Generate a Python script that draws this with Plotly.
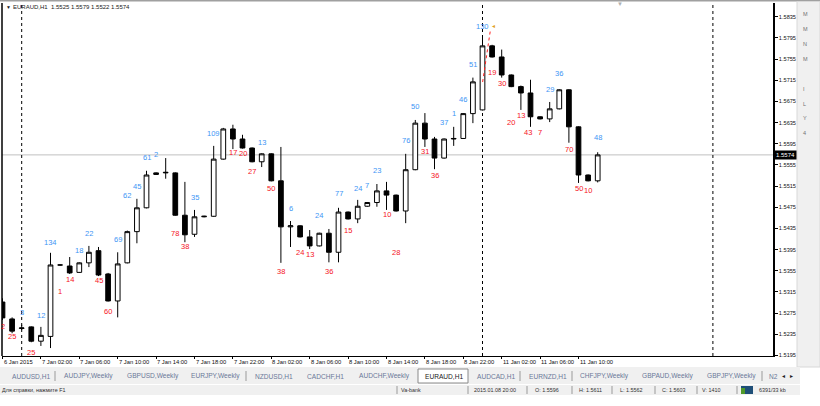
import plotly.graph_objects as go

# ---------------- data (EURAUD, H1) ----------------
bar_open = [1.5296, 1.5264, 1.5246, 1.5249, 1.5222, 1.5231, 1.5366, 1.5364, 1.5352, 1.5370,
            1.5393, 1.5349, 1.5298, 1.5370, 1.5429, 1.5474, 1.5537, 1.5540, 1.5540, 1.5460,
            1.5424, 1.5457, 1.5458, 1.5566, 1.5623, 1.5604, 1.5587, 1.5561, 1.5576, 1.5525,
            1.5438, 1.5440, 1.5419, 1.5402, 1.5426, 1.5390, 1.5466, 1.5453, 1.5477, 1.5484,
            1.5506, 1.5498, 1.5468, 1.5546, 1.5634, 1.5604, 1.5568, 1.5604, 1.5605, 1.5652,
            1.5659, 1.5780, 1.5759, 1.5725, 1.5703, 1.5691, 1.5646, 1.5642, 1.5661, 1.5697,
            1.5627, 1.5536, 1.5525]
bar_high = [1.5303, 1.5267, 1.5253, 1.5250, 1.5249, 1.5389, 1.5367, 1.5381, 1.5371, 1.5402,
            1.5400, 1.5351, 1.5390, 1.5431, 1.5491, 1.5544, 1.5541, 1.5568, 1.5541, 1.5523,
            1.5470, 1.5459, 1.5591, 1.5625, 1.5631, 1.5612, 1.5588, 1.5577, 1.5577, 1.5589,
            1.5449, 1.5441, 1.5432, 1.5427, 1.5434, 1.5474, 1.5467, 1.5489, 1.5485, 1.5519,
            1.5523, 1.5499, 1.5576, 1.5640, 1.5653, 1.5608, 1.5605, 1.5627, 1.5653, 1.5720,
            1.5795, 1.5782, 1.5773, 1.5726, 1.5705, 1.5716, 1.5647, 1.5674, 1.5698, 1.5698,
            1.5628, 1.5537, 1.5579]
bar_low = [1.5262, 1.5237, 1.5243, 1.5220, 1.5213, 1.5209, 1.5365, 1.5349, 1.5351, 1.5362,
           1.5345, 1.5297, 1.5267, 1.5369, 1.5407, 1.5473, 1.5536, 1.5529, 1.5459, 1.5409,
           1.5419, 1.5456, 1.5457, 1.5565, 1.5585, 1.5586, 1.5560, 1.5551, 1.5524, 1.5370,
           1.5400, 1.5418, 1.5396, 1.5401, 1.5371, 1.5371, 1.5452, 1.5445, 1.5476, 1.5476,
           1.5470, 1.5467, 1.5445, 1.5545, 1.5589, 1.5547, 1.5567, 1.5591, 1.5604, 1.5634,
           1.5658, 1.5758, 1.5720, 1.5702, 1.5659, 1.5627, 1.5641, 1.5636, 1.5660, 1.5597,
           1.5521, 1.5524, 1.5522]
bar_close = [1.5266, 1.5241, 1.5247, 1.5222, 1.5233, 1.5366, 1.5366, 1.5351, 1.5370, 1.5390,
             1.5347, 1.5298, 1.5368, 1.5429, 1.5474, 1.5536, 1.5540, 1.5541, 1.5460, 1.5423,
             1.5457, 1.5458, 1.5566, 1.5623, 1.5604, 1.5587, 1.5561, 1.5576, 1.5525, 1.5438,
             1.5440, 1.5419, 1.5402, 1.5426, 1.5390, 1.5466, 1.5453, 1.5477, 1.5484, 1.5506,
             1.5498, 1.5468, 1.5546, 1.5634, 1.5604, 1.5568, 1.5604, 1.5605, 1.5652, 1.5712,
             1.5780, 1.5759, 1.5725, 1.5703, 1.5691, 1.5646, 1.5642, 1.5661, 1.5697, 1.5627,
             1.5536, 1.5525, 1.5574]

time_label_bars = [0, 4, 8, 12, 16, 20, 24, 28, 32, 36, 40, 44, 48, 52, 56, 60]
time_labels = ["6 Jan 2015", "7 Jan 02:00", "7 Jan 06:00", "7 Jan 10:00", "7 Jan 14:00",
               "7 Jan 18:00", "7 Jan 22:00", "8 Jan 02:00", "8 Jan 06:00", "8 Jan 10:00",
               "8 Jan 14:00", "8 Jan 18:00", "8 Jan 22:00", "11 Jan 02:00", "11 Jan 06:00",
               "11 Jan 10:00"]

price_ticks = [1.5195, 1.5235, 1.5275, 1.5315, 1.5355, 1.5395, 1.5435, 1.5475, 1.5515,
               1.5555, 1.5595, 1.5635, 1.5675, 1.5715, 1.5755, 1.5795, 1.5835]
bid_price = 1.5574

# indicator tags above highs (blue) and below lows (red)
up_text = ["3", "12", "134", "18", "22", "69", "62", "45", "61", "2", "35", "109", "13", "6",
           "24", "77", "24", "7", "23", "76", "50", "37", "1", "46", "51", "130", "29", "36", "48"]
up_bar = [2, 4, 5, 8, 9, 12, 13, 14, 15, 16, 20, 22, 27, 30,
          33, 35, 37, 38, 39, 42, 43, 46, 47, 48, 49, 50, 57, 58, 62]
up_price = [1.5277, 1.5271, 1.5409, 1.5394, 1.5426, 1.5415, 1.5498, 1.5515, 1.5570, 1.5574,
            1.5494, 1.5614, 1.5597, 1.5472, 1.5460, 1.5502, 1.5511, 1.5517, 1.5544, 1.5602,
            1.5665, 1.5636, 1.5652, 1.5678, 1.5744, 1.5816, 1.5697, 1.5727, 1.5606]

dn_text = ["2", "25", "25", "1", "14", "45", "60", "78", "38", "17", "20", "27", "50", "38",
           "24", "13", "36", "15", "10", "28", "31", "36", "19", "30", "20", "13", "43", "7",
           "70", "50", "10"]
dn_bar = [0, 1, 3, 6, 7, 10, 11, 18, 19, 24, 25, 26, 28, 29,
          31, 32, 34, 36, 40, 41, 44, 45, 51, 52, 53, 54, 54.75, 56,
          59, 60, 61]
dn_price = [1.5250, 1.5230, 1.5201, 1.5315, 1.5339, 1.5337, 1.5279, 1.5426, 1.5400, 1.5578,
            1.5576, 1.5542, 1.5511, 1.5353, 1.5389, 1.5385, 1.5353, 1.5432, 1.5462, 1.5389,
            1.5580, 1.5536, 1.5729, 1.5708, 1.5636, 1.5648, 1.5616, 1.5616, 1.5585, 1.5511,
            1.5506]

trend_bar = [50.8, 50.0]
trend_price = [1.5807, 1.5710]
separator_bars = [2, 50, 74]

header_text = "EURAUD,H1  1.5525 1.5579 1.5522 1.5574"
tabs = ["AUDUSD,H1", "AUDJPY,Weekly", "GBPUSD,Weekly", "EURJPY,Weekly", "NZDUSD,H1",
        "CADCHF,H1", "AUDCHF,Weekly", "EURAUD,H1", "AUDCAD,H1", "EURNZD,H1",
        "CHFJPY,Weekly", "GBPAUD,Weekly", "GBPJPY,Weekly", "N2"]
status_items = ["Для справки, нажмите F1", "Va-bank", "2015.01.08 20:00", "O: 1.5596",
                "H: 1.5611", "L: 1.5562", "C: 1.5603", "V: 1410", "6391/33 kb"]

# ---------------- layout geometry ----------------
W, H = 820, 406
ML, MR, MT, MB = 2, 47, 3, 50
PW, PH = W - ML - MR, H - MT - MB
BAR_PX, FIRST_PX = 9.6, 2.5
x_range = [(ML - FIRST_PX) / BAR_PX, (ML + PW - FIRST_PX) / BAR_PX]
y_range = [1.5194, 1.5861]


def px_x(X):
    return (X - ML) / PW


def px_y(Y):
    return (H - MB - Y) / PH


FONT = "Liberation Sans, Arial, sans-serif"
BLUE = "#3d95f5"
RED = "#f5141e"

fig = go.Figure()
fig.add_trace(go.Candlestick(
    x=list(range(len(bar_open))), open=bar_open, high=bar_high, low=bar_low, close=bar_close,
    increasing=dict(line=dict(color="black", width=1), fillcolor="white"),
    decreasing=dict(line=dict(color="black", width=1), fillcolor="black"),
    whiskerwidth=0, hoverinfo="skip", showlegend=False))

fig.add_trace(go.Scatter(x=trend_bar, y=trend_price, mode="lines",
                         line=dict(color="#ff2020", width=1, dash="dot"),
                         hoverinfo="skip", showlegend=False))

shapes = []
annotations = []

# bid line
shapes.append(dict(type="line", xref="paper", x0=0, x1=1, yref="y", y0=bid_price, y1=bid_price,
                   line=dict(color="#c0c0c0", width=1), layer="below"))
# separators
for b in separator_bars:
    shapes.append(dict(type="line", xref="x", x0=b, x1=b, yref="paper", y0=0, y1=1,
                       line=dict(color="black", width=1, dash="dot"), layer="below"))
# left frame
shapes.append(dict(type="line", xref="paper", x0=0, x1=0, yref="paper", y0=0, y1=1,
                   line=dict(color="black", width=1.5)))
# top window line
shapes.append(dict(type="rect", xref="paper", yref="paper", x0=px_x(0), x1=px_x(W),
                   y0=px_y(1.5), y1=px_y(0), fillcolor="#a0a0a0", line=dict(width=0)))
# right side panel
shapes.append(dict(type="rect", xref="paper", yref="paper", x0=px_x(797), x1=px_x(W),
                   y0=px_y(367), y1=px_y(1.5), fillcolor="#f0f0f0",
                   line=dict(color="#d8d8d8", width=1)))
# tab bar and status bar
shapes.append(dict(type="rect", xref="paper", yref="paper", x0=px_x(0), x1=px_x(800),
                   y0=px_y(384), y1=px_y(367), fillcolor="#f0f0f0", line=dict(width=0)))
shapes.append(dict(type="rect", xref="paper", yref="paper", x0=px_x(418), x1=px_x(468),
                   y0=px_y(383), y1=px_y(369), fillcolor="white",
                   line=dict(color="#8a8a8a", width=1)))
shapes.append(dict(type="rect", xref="paper", yref="paper", x0=px_x(0), x1=px_x(800),
                   y0=px_y(395), y1=px_y(385), fillcolor="#f0f0f0", line=dict(width=0)))
# icon in status bar
shapes.append(dict(type="rect", xref="paper", yref="paper", x0=px_x(741), x1=px_x(753),
                   y0=px_y(394), y1=px_y(386), fillcolor="#1f4f78", line=dict(width=0)))
shapes.append(dict(type="rect", xref="paper", yref="paper", x0=px_x(741), x1=px_x(745),
                   y0=px_y(394), y1=px_y(388), fillcolor="#4f9a2a", line=dict(width=0)))

# status separators
for sx in [397, 468, 527, 572, 612, 655, 697, 737]:
    shapes.append(dict(type="line", xref="paper", yref="paper", x0=px_x(sx), x1=px_x(sx),
                       y0=px_y(394), y1=px_y(386), line=dict(color="#9a9a9a", width=1)))
# tab separators
for sx in [55, 246, 520, 572, 762]:
    shapes.append(dict(type="line", xref="paper", yref="paper", x0=px_x(sx), x1=px_x(sx),
                       y0=px_y(381), y1=px_y(371), line=dict(color="#9a9a9a", width=1)))

# header
annotations.append(dict(xref="paper", yref="paper", x=px_x(4), y=px_y(7), text="▼",
                        showarrow=False, xanchor="left", yanchor="middle",
                        font=dict(family=FONT, size=5, color="#202020")))
annotations.append(dict(xref="paper", yref="paper", x=px_x(11), y=px_y(7), text=header_text,
                        showarrow=False, xanchor="left", yanchor="middle",
                        font=dict(family=FONT, size=6, color="#202020")))
annotations.append(dict(xref="paper", yref="paper", x=px_x(620), y=px_y(4), text="▼",
                        showarrow=False, xanchor="center", yanchor="middle",
                        font=dict(family=FONT, size=6, color="#b0b0b0")))

# indicator tags
for t, b, p in zip(up_text, up_bar, up_price):
    annotations.append(dict(x=b, y=p, xref="x", yref="y", text=t, showarrow=False,
                            xanchor="center", yanchor="middle",
                            font=dict(family=FONT, size=7.5, color=BLUE)))
for t, b, p in zip(dn_text, dn_bar, dn_price):
    annotations.append(dict(x=b, y=p, xref="x", yref="y", text=t, showarrow=False,
                            xanchor="center", yanchor="middle",
                            font=dict(family=FONT, size=7.5, color=RED)))
annotations.append(dict(x=51.1, y=1.5818, xref="x", yref="y", text="◄", showarrow=False,
                        font=dict(family=FONT, size=5, color="#e0a020")))

# time labels (left aligned at tick)
for b, t in zip(time_label_bars, time_labels):
    annotations.append(dict(x=b, y=px_y(362), xref="x", yref="paper", text=t, showarrow=False,
                            xanchor="left", yanchor="middle", xshift=-1,
                            font=dict(family=FONT, size=5.8, color="#101010")))

# current price tag
annotations.append(dict(xref="paper", yref="y", x=1, y=bid_price, xshift=1,
                        text="1.5574", showarrow=False, xanchor="left", yanchor="middle",
                        bgcolor="black", borderpad=1,
                        font=dict(family=FONT, size=6, color="white")))

# tabs
tab_x = [10, 62, 125, 189, 253, 305, 357, 423, 475, 527, 578, 640, 705, 767]
for tx, t in zip(tab_x, tabs):
    annotations.append(dict(xref="paper", yref="paper", x=px_x(tx), y=px_y(376), text=t,
                            showarrow=False, xanchor="left", yanchor="middle",
                            font=dict(family=FONT, size=6.6,
                                      color="#202020" if t == "EURAUD,H1" else "#6a7898")))
for tx, t in [(780, "◂"), (788, "▸")]:
    annotations.append(dict(xref="paper", yref="paper", x=px_x(tx), y=px_y(376), text=t,
                            showarrow=False, xanchor="left", yanchor="middle",
                            font=dict(family=FONT, size=6, color="#202020")))

# status bar
status_x = [0, 399, 472, 533, 577, 618, 660, 700, 757]
for sx, t in zip(status_x, status_items):
    annotations.append(dict(xref="paper", yref="paper", x=px_x(sx), y=px_y(390), text=t,
                            showarrow=False, xanchor="left", yanchor="middle",
                            font=dict(family=FONT, size=5.4, color="#303030")))

# side panel glyphs
for gy, g in [(14, "M"), (29, "M"), (44, "N"), (59, "M"), (89, "I"), (104, "L"),
              (118, "Y"), (133, "4")]:
    annotations.append(dict(xref="paper", yref="paper", x=px_x(801), y=px_y(gy), text=g,
                            showarrow=False, xanchor="left", yanchor="middle",
                            font=dict(family=FONT, size=5.5, color="#707070")))

fig.update_layout(
    width=W, height=H, margin=dict(l=ML, r=MR, t=MT, b=MB),
    paper_bgcolor="white", plot_bgcolor="white",
    showlegend=False, boxgap=0.3,
    shapes=shapes, annotations=annotations,
    xaxis=dict(range=x_range, rangeslider=dict(visible=False), showgrid=False, zeroline=False,
               showline=True, linecolor="black", linewidth=1,
               tickmode="array", tickvals=time_label_bars, ticks="outside", ticklen=2,
               tickcolor="black", showticklabels=False, fixedrange=True),
    yaxis=dict(range=y_range, side="right", showgrid=False, zeroline=False,
               showline=True, linecolor="black", linewidth=1.5,
               tickmode="array", tickvals=price_ticks,
               ticktext=[f"{v:.4f}" for v in price_ticks],
               ticks="outside", ticklen=3, tickcolor="black",
               tickfont=dict(family=FONT, size=5.6, color="#101010"), fixedrange=True),
)

fig.write_html("out.html")
